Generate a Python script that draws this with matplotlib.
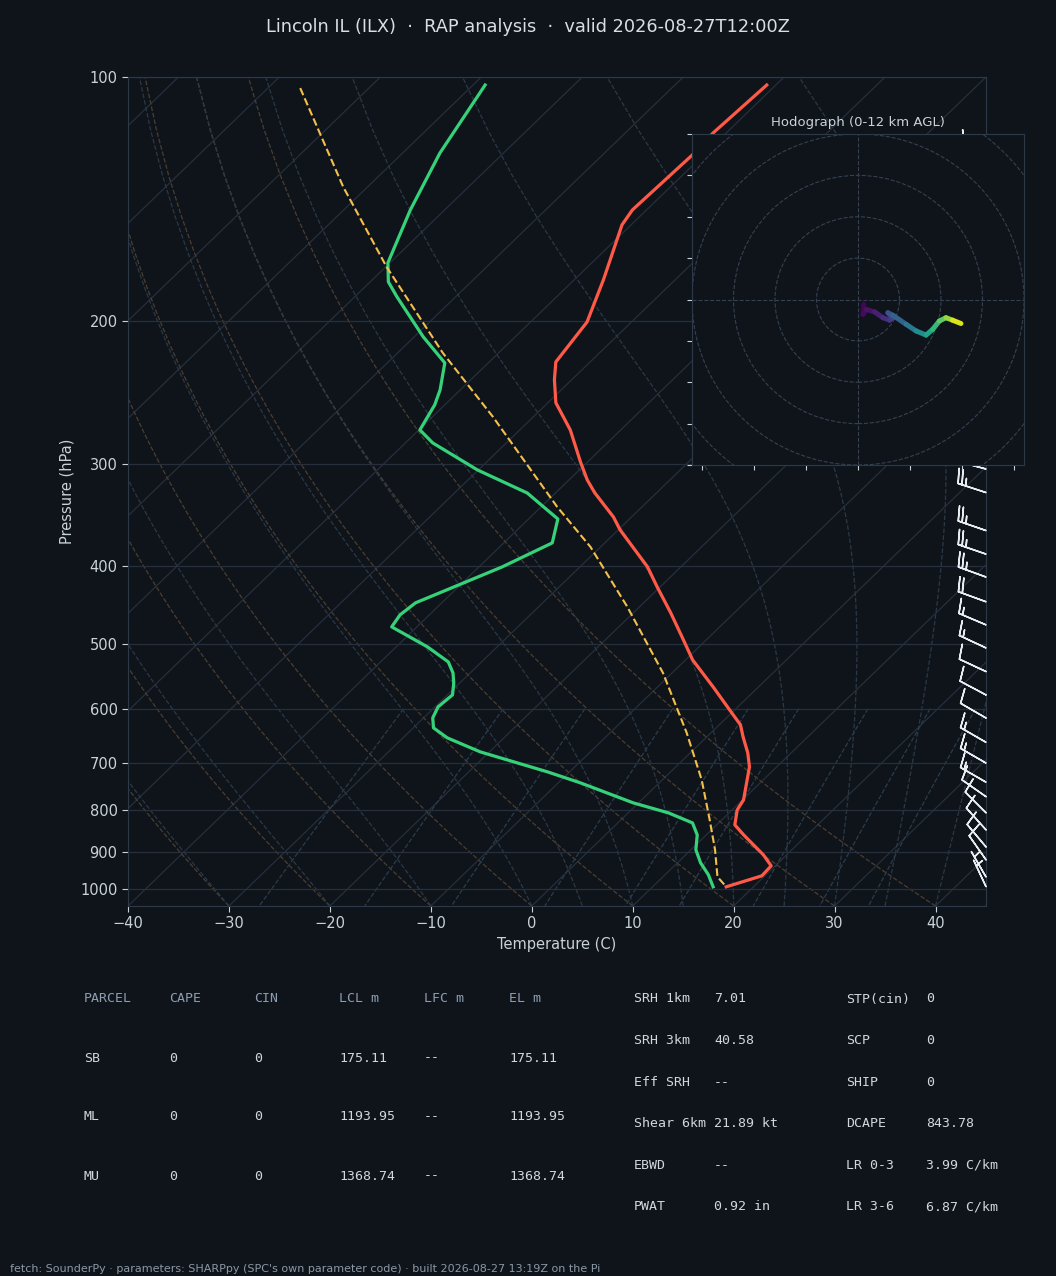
import numpy as np
import matplotlib
matplotlib.use('Agg')
import matplotlib.pyplot as plt
import matplotlib.transforms as mtransforms
from matplotlib.collections import LineCollection
from matplotlib.patches import Circle
from matplotlib.ticker import FixedLocator, NullLocator, FixedFormatter

# ---------------- data ----------------
title = "Lincoln IL (ILX)  \u00b7  RAP analysis  \u00b7  valid 2026-08-27T12:00Z"
footer = ("fetch: SounderPy \u00b7 parameters: SHARPpy (SPC's own parameter code) "
          "\u00b7 built 2026-08-27 13:19Z on the Pi")

temp_p = [102.3, 117.2, 124.7, 145.8, 152.1, 177.8, 200.4, 224.4, 236.1, 252.0,
          272.1, 298.0, 313.5, 325.4, 348.3, 361.4, 401.3, 424.7, 457.1, 489.5,
          522.4, 564.0, 602.1, 628.1, 650.0, 680.1, 707.6, 777.1, 799.5, 834.2,
          858.2, 908.2, 936.9, 963.8, 994.4]
temp_c = [-60.9, -61.3, -61.1, -61.4, -60.9, -57.1, -54.4, -53.4, -51.7, -49.2,
          -45.0, -40.7, -38.2, -36.1, -31.8, -29.8, -23.3, -20.3, -16.3, -12.7,
          -9.3, -4.5, -0.5, 2.1, 3.6, 5.7, 7.3, 10.1, 10.5, 11.8,
          13.7, 17.7, 19.6, 19.7, 17.3]

dew_p = [102.3, 124.1, 145.8, 169.4, 178.8, 186.6, 209.0, 225.0, 242.9, 253.4,
         272.1, 282.3, 304.8, 325.4, 350.3, 374.9, 401.3, 444.4, 459.8, 475.7,
         503.5, 525.4, 542.1, 557.7, 576.9, 596.9, 615.8, 633.5, 651.8, 678.2,
         717.7, 740.5, 783.8, 806.3, 829.5, 858.2, 895.4, 929.0, 961.1, 994.4]
dew_c = [-88.8, -86.3, -83.4, -80.2, -78.2, -75.8, -69.1, -64.3, -62.0, -61.0,
         -59.9, -57.3, -50.1, -42.8, -37.1, -35.2, -37.7, -42.6, -42.9, -42.5,
         -36.9, -33.3, -31.7, -30.6, -29.5, -29.7, -29.1, -28.0, -25.6, -20.9,
         -12.2, -7.8, -0.5, 4.0, 7.4, 9.1, 10.5, 12.3, 14.3, 16.0]

parcel_p = [103.2, 136.6, 171.4, 218.8, 262.2, 338.5, 379.2, 449.5, 542.1, 642.6,
            734.2, 822.5, 895.4, 966.5, 994.4]
parcel_c = [-106.8, -92.4, -79.9, -65.5, -54.0, -38.4, -31.0, -21.2, -10.9, -2.4,
            3.9, 8.8, 12.4, 15.4, 17.3]

barb_p = [994, 967, 921, 888, 846, 806, 770, 739, 700, 660, 616, 577, 540, 505,
          473, 443, 413, 387, 362, 325, 304, 284, 266, 249, 233, 218, 204, 191,
          178, 167, 156, 146, 137, 128, 120]
barb_spd = [4, 6, 8, 10, 10, 10, 12, 15, 15, 15, 12, 12, 12, 15,
            17, 22, 25, 25, 25, 25, 25, 25, 26, 25, 24, 22, 20, 18,
            15, 12, 10, 8, 6, 5, 5]
barb_dir = [335, 330, 325, 320, 318, 315, 305, 300, 300, 300, 300, 298, 295, 295,
            293, 290, 290, 289, 289, 288, 285, 283, 282, 280, 280, 280, 282, 285,
            290, 290, 290, 290, 285, 280, 280]

hodo_z = [0.0, 0.2, 0.4, 0.8, 1.3, 1.8, 2.2, 2.8, 3.2, 4.3, 5.3, 6.5, 7.5, 8.5, 9.5, 10.7, 12.0]
hodo_u = [1.4, 1.2, 2.0, 4.0, 6.0, 7.6, 8.4, 7.2, 8.4, 11.6, 14.0, 16.4, 18.0, 19.6, 21.2, 22.8, 24.8]
hodo_v = [-1.2, -3.6, -2.4, -3.0, -4.4, -5.0, -4.4, -3.2, -3.8, -6.0, -7.6, -8.6, -7.2, -5.2, -4.4, -5.0, -5.8]

pressure_ticks = [100, 200, 300, 400, 500, 600, 700, 800, 900, 1000]
temp_ticks = [-40, -30, -20, -10, 0, 10, 20, 30, 40]

parcel_header = ['PARCEL', 'CAPE', 'CIN', 'LCL m', 'LFC m', 'EL m']
parcel_rows = [['SB', '0', '0', '175.11', '--', '175.11'],
               ['ML', '0', '0', '1193.95', '--', '1193.95'],
               ['MU', '0', '0', '1368.74', '--', '1368.74']]
kin_labels = ['SRH 1km', 'SRH 3km', 'Eff SRH', 'Shear 6km', 'EBWD', 'PWAT']
kin_values = ['7.01', '40.58', '--', '21.89 kt', '--', '0.92 in']
thermo_labels = ['STP(cin)', 'SCP', 'SHIP', 'DCAPE', 'LR 0-3', 'LR 3-6']
thermo_values = ['0', '0', '0', '843.78', '3.99 C/km', '6.87 C/km']

# ---------------- style ----------------
BG = '#0f141b'
TXT = '#c9d1d9'
SPINE = '#2e3947'
GRID = '#262f3b'
DRY = '#4a3e30'
MOIST = '#2b3845'
MIX = '#2b3c4a'
W, H = 1056, 1276

fig = plt.figure(figsize=(W / 100, H / 100), dpi=100, facecolor=BG)
ax = fig.add_axes([128 / W, 1 - 906 / H, 858 / W, 829 / H], facecolor=BG)
ax.set_yscale('log')
ax.set_ylim(1050, 100)
ax.set_xlim(-40, 45)
skew = ax.transScale + ax.transLimits + mtransforms.Affine2D().skew_deg(45, 0) + ax.transAxes

ax.yaxis.set_major_locator(FixedLocator(pressure_ticks))
ax.yaxis.set_major_formatter(FixedFormatter([str(p) for p in pressure_ticks]))
ax.yaxis.set_minor_locator(NullLocator())
ax.set_xticks(temp_ticks)
ax.yaxis.grid(True, color=GRID, lw=0.9)
for s in ax.spines.values():
    s.set_color(SPINE)
ax.tick_params(colors=TXT, labelsize=10.5, length=4)
ax.set_xlabel('Temperature (C)', color=TXT, fontsize=10.5)
ax.set_ylabel('Pressure (hPa)', color=TXT, fontsize=10.5)

# ---------------- background thermodynamic lines ----------------
ylo, yhi = ax.get_ylim()
p_lines = np.linspace(ylo, yhi, 60)
Rd, Cp, Lv, eps = 287.04, 1005.7, 2.501e6, 0.622

# isotherms
for t in range(-150, 50, 10):
    ax.plot([t, t], [ylo, yhi], transform=skew, color=GRID, lw=0.9, zorder=1)

# dry adiabats (reference = bottom of chart)
dry_t0 = np.arange(-40, 46, 10)
segs = []
for t0 in dry_t0:
    tk = (t0 + 273.15) * (p_lines / ylo) ** (Rd / Cp) - 273.15
    segs.append(np.column_stack([tk, p_lines]))
ax.add_collection(LineCollection(segs, colors=DRY, linestyles='--', linewidths=0.9,
                                 transform=skew, zorder=1), autolim=False)


def es(T):
    return 6.112 * np.exp(17.67 * (T - 273.15) / (T - 29.65))


def dtdp(p, T):
    e = es(T)
    rs = eps * e / (p - e)
    return (Rd * T + Lv * rs) / (Cp + Lv * Lv * rs * eps / (Rd * T * T)) / p


moist_t0 = np.concatenate((np.arange(-40, 0, 10), np.arange(0, 46, 5)))
segs = []
for t0 in moist_t0:
    T = t0 + 273.15
    out = [T]
    for i in range(1, len(p_lines)):
        pa, pb = p_lines[i - 1], p_lines[i]
        n = 10
        h = (pb - pa) / n
        p = pa
        for _ in range(n):
            k1 = dtdp(p, T)
            k2 = dtdp(p + h / 2, T + h * k1 / 2)
            k3 = dtdp(p + h / 2, T + h * k2 / 2)
            k4 = dtdp(p + h, T + h * k3)
            T = T + h * (k1 + 2 * k2 + 2 * k3 + k4) / 6
            p += h
        out.append(T)
    segs.append(np.column_stack([np.array(out) - 273.15, p_lines]))
ax.add_collection(LineCollection(segs, colors=MOIST, linestyles='--', linewidths=0.9,
                                 transform=skew, zorder=1), autolim=False)

mix_w = [0.0004, 0.001, 0.002, 0.004, 0.007, 0.01, 0.016, 0.024, 0.032]
p_mix = np.linspace(600, ylo, 40)
segs = []
for w in mix_w:
    e = p_mix * w / (eps + w)
    lg = np.log(e / 6.112)
    td = 243.5 * lg / (17.67 - lg)
    segs.append(np.column_stack([td, p_mix]))
ax.add_collection(LineCollection(segs, colors=MIX, linestyles='--', linewidths=0.9,
                                 transform=skew, zorder=1), autolim=False)

# ---------------- profiles ----------------
ax.plot(temp_c, temp_p, transform=skew, color='#ff5a47', lw=2.3, zorder=5)
ax.plot(dew_c, dew_p, transform=skew, color='#36d27a', lw=2.3, zorder=5)
ax.plot(parcel_c, parcel_p, transform=skew, color='#f4c04a', lw=1.5, ls='--', zorder=5)

# wind barbs along the right edge
spd = np.array(barb_spd, float)
wd = np.deg2rad(barb_dir)
bu = -spd * np.sin(wd)
bv = -spd * np.cos(wd)
btr = mtransforms.blended_transform_factory(ax.transAxes, ax.transData)
ax.barbs(np.ones(len(barb_p)), barb_p, bu, bv, transform=btr, clip_on=False,
         length=6.5, sizes=dict(height=0.5, spacing=0.14), color='#e8edf2',
         linewidth=1.1, zorder=6)

# ---------------- hodograph ----------------
hax = fig.add_axes([692 / W, 1 - 465 / H, 332 / W, 331 / H], facecolor=BG)
hax.set_xlim(-40, 40)
hax.set_ylim(-40, 40)
for s in hax.spines.values():
    s.set_color(SPINE)
hax.set_xticks(np.arange(-37.5, 40, 12.5))
hax.set_yticks(np.arange(-40, 41, 10))
hax.tick_params(colors=TXT, labelleft=False, labelbottom=False, length=3.5)
for r in range(10, 70, 10):
    hax.add_patch(Circle((0, 0), r, fill=False, ls='--', lw=0.8, ec='#354150'))
hax.axhline(0, ls='--', lw=0.8, color='#354150')
hax.axvline(0, ls='--', lw=0.8, color='#354150')
pts = np.column_stack([hodo_u, hodo_v])
hsegs = np.stack([pts[:-1], pts[1:]], axis=1)
zmid = 0.5 * (np.array(hodo_z[:-1]) + np.array(hodo_z[1:]))
lc = LineCollection(hsegs, cmap='viridis', norm=plt.Normalize(0, 12), linewidths=3.6,
                    capstyle='round', joinstyle='round')
lc.set_array(zmid)
hax.add_collection(lc, autolim=False)
hax.set_title('Hodograph (0-12 km AGL)', color=TXT, fontsize=9.5)

# ---------------- text ----------------
fig.text(0.5, 1 - 27 / H, title, ha='center', va='center', fontsize=12.8, color='#d8dee6')

mono = 'DejaVu Sans Mono'
for i, h in enumerate(parcel_header):
    fig.text((84 + 85 * i) / W, 1 - 999 / H, h, family=mono, fontsize=9.5,
             color='#8d9db0', va='center', ha='left')
for j, row in enumerate(parcel_rows):
    for i, c in enumerate(row):
        fig.text((84 + 85 * i) / W, 1 - (1058 + 59 * j) / H, c, family=mono, fontsize=9.5,
                 color='#d0d7de', va='center', ha='left')
for j in range(len(kin_labels)):
    y = 1 - (999 + 41.6 * j) / H
    fig.text(634 / W, y, kin_labels[j], family=mono, fontsize=9.5, color='#d0d7de', va='center')
    fig.text(714 / W, y, kin_values[j], family=mono, fontsize=9.5, color='#d0d7de', va='center')
    fig.text(846 / W, y, thermo_labels[j], family=mono, fontsize=9.5, color='#d0d7de', va='center')
    fig.text(926 / W, y, thermo_values[j], family=mono, fontsize=9.5, color='#d0d7de', va='center')

fig.text(10 / W, 1 - 1269 / H, footer, fontsize=8, color='#8b98a5', va='center', ha='left')

fig.savefig('out.png', dpi=100, facecolor=BG)
